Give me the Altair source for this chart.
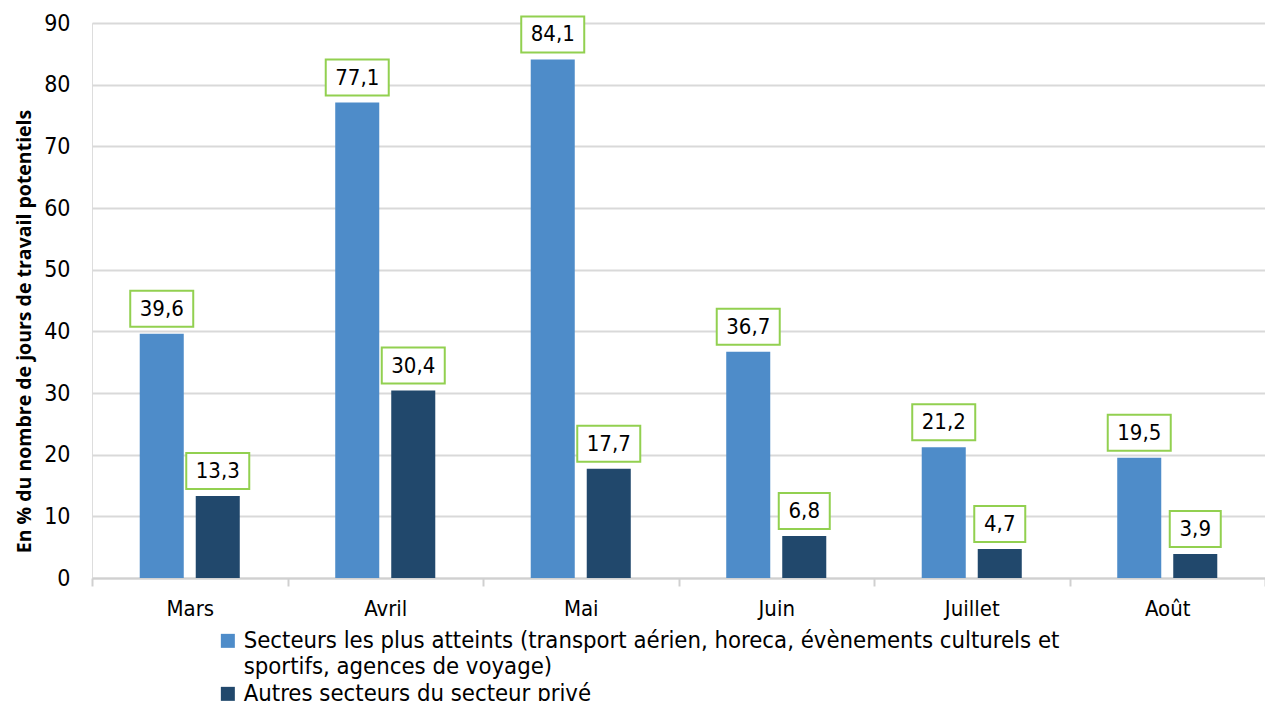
import altair as alt
import pandas as pd

months = ["Mars", "Avril", "Mai", "Juin", "Juillet", "Août"]
series = [
    "Secteurs les plus atteints (transport aérien, horeca, évènements culturels et\nsportifs, agences de voyage)",
    "Autres secteurs du secteur privé",
]
most_hit = [39.6, 77.1, 84.1, 36.7, 21.2, 19.5]
others = [13.3, 30.4, 17.7, 6.8, 4.7, 3.9]
colors = ["#4E8CC9", "#21486C"]

rows = []
for m, a, b in zip(months, most_hit, others):
    rows.append({"mois": m, "serie": series[0], "val": a})
    rows.append({"mois": m, "serie": series[1], "val": b})
df = pd.DataFrame(rows)

FONT = "DejaVu Sans Condensed, DejaVu Sans, sans-serif"

x = alt.X("mois:N", sort=months, title=None,
          scale=alt.Scale(paddingInner=0, paddingOuter=0),
          axis=alt.Axis(labelAngle=0, labelFont=FONT, labelFontSize=22, labelColor="#000000",
                        labelPadding=12, tickBand="extent", tickSize=8, tickColor="#d0d0d0",
                        tickWidth=2, domainColor="#d0d0d0", domainWidth=2, grid=False))
xo = alt.XOffset("serie:N", sort=series,
                 scale=alt.Scale(paddingInner=0.214, paddingOuter=0.852))
y = alt.Y("val:Q", title="En % du nombre de jours de travail potentiels",
          scale=alt.Scale(domain=[0, 90], nice=False),
          axis=alt.Axis(values=list(range(0, 91, 10)), labelFont=FONT, labelFontSize=23,
                        labelColor="#000000", labelPadding=22, ticks=False, domain=False,
                        gridColor="#d9d9d9", gridWidth=2,
                        titleFont="Open Sans", titleFontWeight="bold", titleFontSize=19.5,
                        titleColor="#000000", titlePadding=9, titleY=308))

base = alt.Chart(df).transform_calculate(
    lab="replace(format(datum.val, '.1f'), '.', ',')",
    nch="length(replace(format(datum.val, '.1f'), '.', ','))",
)

bars = base.mark_bar().encode(
    x=x, xOffset=xo, y=y,
    color=alt.Color("serie:N", sort=series,
                    scale=alt.Scale(domain=series, range=colors),
                    legend=alt.Legend(title=None, orient="none", legendX=124, legendY=606,
                                      direction="vertical", symbolType="square", symbolSize=196,
                                      symbolStrokeWidth=0, labelFont=FONT, labelFontSize=23.7,
                                      labelColor="#000000", labelLimit=1200, rowPadding=2,
                                      labelOffset=4,
                                      labelExpr="split(datum.label, '\\n')")),
)

box4 = base.transform_filter("datum.nch >= 4").mark_bar(
    width=63, fill="white", stroke="#92D050", strokeWidth=2, yOffset=-7, y2Offset=-43
).encode(x=x, xOffset=xo, y=alt.Y("val:Q"), y2=alt.Y2("val"))

box3 = base.transform_filter("datum.nch < 4").mark_bar(
    width=51, fill="white", stroke="#92D050", strokeWidth=2, yOffset=-7, y2Offset=-43
).encode(x=x, xOffset=xo, y=alt.Y("val:Q"), y2=alt.Y2("val"))

labels = base.mark_text(font=FONT, fontSize=22, color="#000000", dy=-25, baseline="middle").encode(
    x=x, xOffset=xo, y=alt.Y("val:Q"), text="lab:N"
)

chart = alt.layer(bars, box4, box3, labels).properties(
    width=1173, height=555,
    autosize=alt.AutoSizeParams(type="none"),
    padding={"left": 92, "top": 23, "right": 0, "bottom": 123},
).configure_view(stroke=None).configure(background="white")

chart.save("out.html", embed_options={"renderer": "svg", "actions": False})
